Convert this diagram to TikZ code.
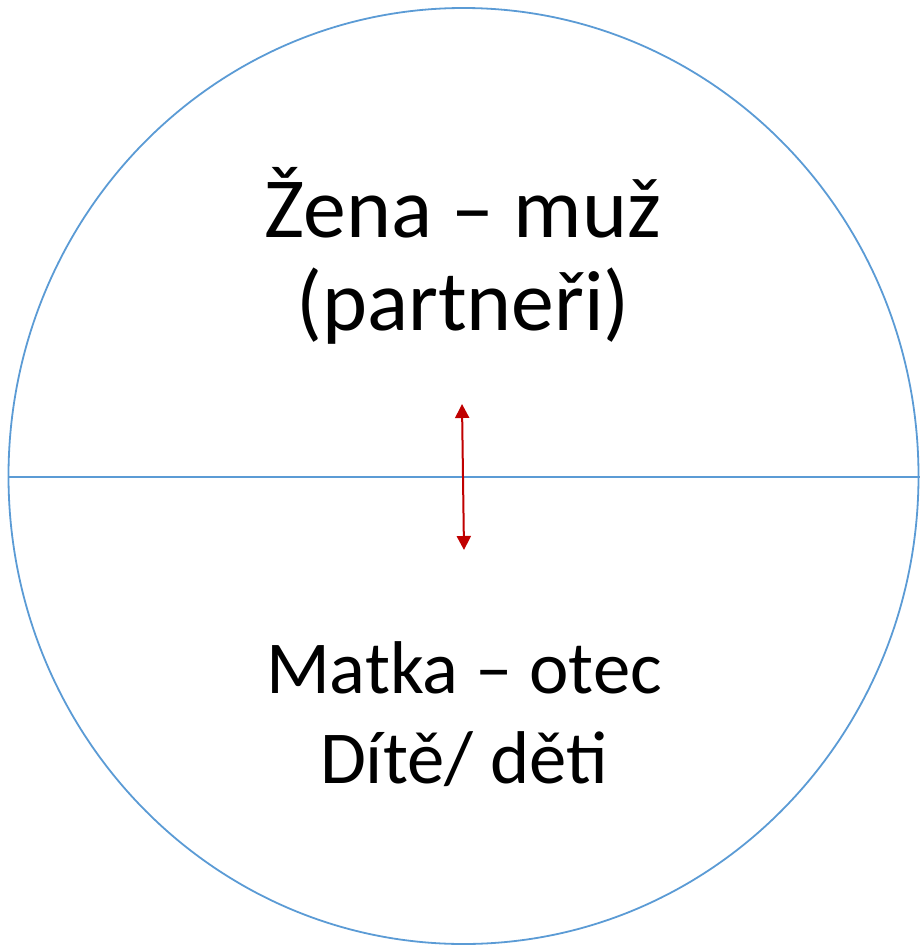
\documentclass[tikz,border=0pt]{standalone}
\usepackage{fontspec}
\setmainfont{Carlito}
\usetikzlibrary{arrows.meta}
\definecolor{circblue}{HTML}{5B9BD5}
\definecolor{arrred}{HTML}{C00000}
\tikzset{
  lbltop/.style={align=center, font=\fontsize{86}{93}\selectfont, inner sep=0pt},
  lblbot/.style={align=center, font=\fontsize{75}{90}\selectfont, inner sep=0pt},
  ring/.style={draw=circblue, line width=1.8bp},
  divider/.style={draw=circblue, line width=1.2bp},
  link/.style={draw=arrred, line width=2bp, {Triangle[length=14bp,width=14bp]}-{Triangle[length=14bp,width=14bp]}}
}
\begin{document}
\begin{tikzpicture}[x=1bp,y=-1bp]
\useasboundingbox (0,0) rectangle (920,946);
\draw[ring] (463.5,476) ellipse [x radius=455, y radius=468];
\coordinate (dl) at (8,477);
\coordinate (dr) at (920,477);
\draw[divider] (dl) -- (dr);
\node[lbltop, anchor=base] (top) at (463,330) {Žena – muž\\(partneři)};
\node[lblbot, anchor=base] (bot) at (464,783) {Matka – otec\\Dítě/ děti};
\coordinate (at) at (462,404);
\coordinate (ab) at (464,550);
\draw[link] (at) -- (ab);
\end{tikzpicture}
\end{document}
